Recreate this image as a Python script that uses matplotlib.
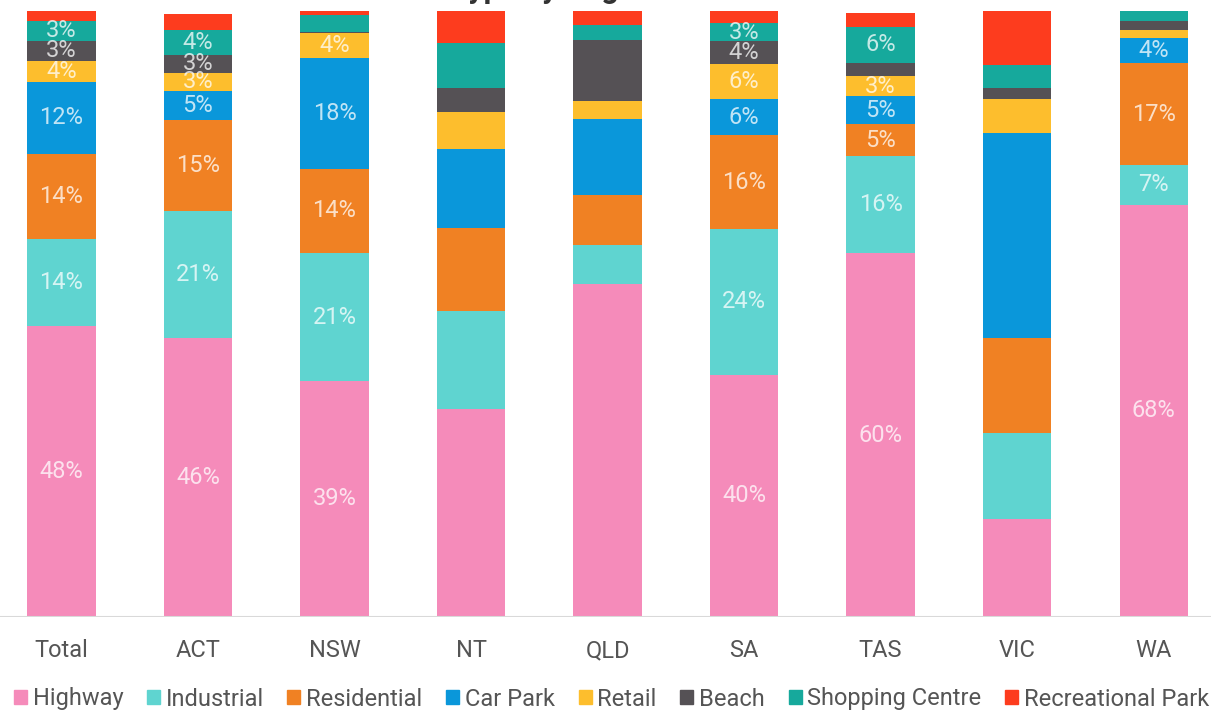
import matplotlib.pyplot as plt
import matplotlib.patches as mpatches
import numpy as np

plt.rcParams['font.family'] = ['Roboto', 'DejaVu Sans']

regions = ["Total", "ACT", "NSW", "NT", "QLD", "SA", "TAS", "VIC", "WA"]

highway = [48, 46, 39, 34.3, 55, 40, 60, 16.2, 68]
industrial = [14.4, 21, 21, 16.2, 6.4, 24, 16, 14.2, 6.6]
residential = [14, 15, 14, 13.7, 8.3, 15.5, 5.3, 15.7, 16.8]
car_park = [11.9, 4.8, 18.3, 13, 12.4, 5.9, 4.6, 33.8, 4.1]
retail = [3.5, 3, 4, 6.1, 3.1, 5.8, 3.3, 5.6, 1.3]
beach = [3.3, 3, 0.3, 4, 10, 3.8, 2.3, 1.8, 1.5]
shopping_centre = [3.3, 4.1, 2.8, 7.4, 2.5, 3, 5.9, 3.8, 1.8]
recreational_park = [1.7, 2.6, 1, 5.3, 2.3, 2, 2.2, 8.9, 0.3]

series_names = ["Highway", "Industrial", "Residential", "Car Park", "Retail",
                "Beach", "Shopping Centre", "Recreational Park"]
series_colors = ["#F58BBA", "#5FD4D0", "#F08123", "#0A97DA", "#FDBE2D",
                 "#555155", "#16A99C", "#FD3C1E"]

# regions where the source shows data labels
labelled_regions = ["Total", "ACT", "NSW", "SA", "TAS", "WA"]

series = [highway, industrial, residential, car_park, retail, beach,
          shopping_centre, recreational_park]

fig = plt.figure(figsize=(12.11, 7.19), dpi=100)
ax = fig.add_axes([0, 102 / 719, 1, 606 / 719])

x = np.arange(len(regions))
bottom = np.zeros(len(regions))
for name, vals, col in zip(series_names, series, series_colors):
    vals = np.array(vals, dtype=float)
    ax.bar(x, vals, bottom=bottom, width=0.5, color=col, label=name, linewidth=0)
    for i, v in enumerate(vals):
        if regions[i] in labelled_regions and v >= 2.9:
            ax.text(x[i], bottom[i] + v / 2, f"{round(v)}%", ha="center", va="center",
                    color="white", alpha=0.75, fontsize=17)
    bottom += vals

ax.set_xlim(-0.45, 8.42)
ax.set_ylim(0, 100)
ax.axhline(0, color="#d9d9d9", linewidth=1.5)
for s in ax.spines.values():
    s.set_visible(False)
ax.set_yticks([])
ax.set_xticks(x)
ax.set_xticklabels(regions, fontsize=17, color="#555555")
ax.tick_params(axis="x", length=0, pad=16)

# title is cropped at the top edge in the source image
fig.text(388 / 1211, 1.0 + 2 / 719, "Site Type by Region", ha="left", va="baseline",
         fontsize=22, fontweight="bold", color="#333333")

handles = [mpatches.Patch(color=c, label=n) for n, c in zip(series_names, series_colors)]
fig.legend(handles=handles, loc="center", bbox_to_anchor=(0.505, 20 / 719), ncol=8,
           frameon=False, handlelength=0.55, handleheight=0.55,
           handletextpad=0.25, columnspacing=1.0, labelcolor="#555555",
           prop={"size": 17})

fig.savefig("out.png", dpi=100)
